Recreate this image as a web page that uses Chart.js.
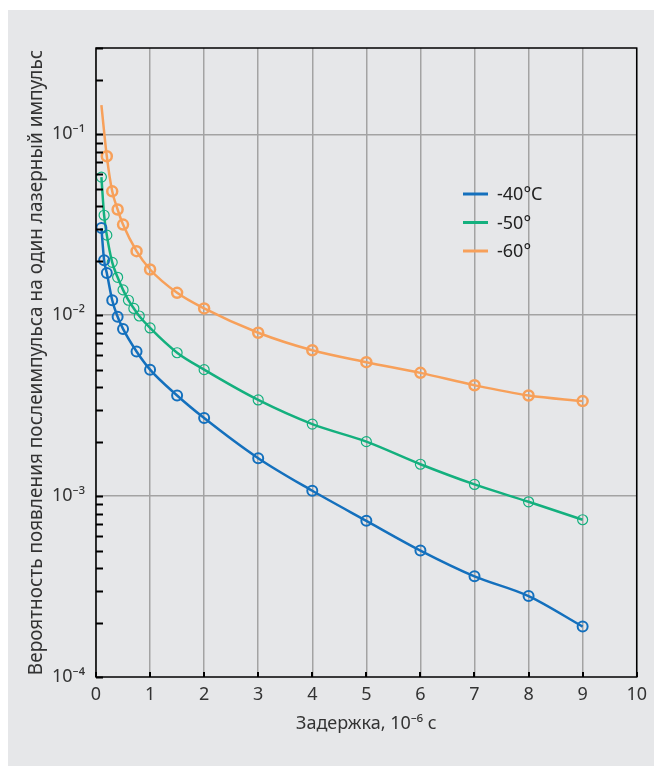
<!DOCTYPE html>
<html>
<head>
<meta charset="utf-8">
<script src="https://cdn.jsdelivr.net/npm/chart.js@4.4.1/dist/chart.umd.min.js"></script>
<style>
    html, body { margin: 0; padding: 0; background: #ffffff; }
    #panel { position: absolute; left: 8px; top: 10px; width: 646px; height: 756px; background: #e6e7e9; }
    #chart { display: block; }
</style>
</head>
<body>
<div id="panel"><canvas id="chart" width="646" height="756"></canvas></div>
<script>
// Data
const seriesNames = ['-40°C', '-50°', '-60°'];

const delay40 = [0.1, 0.15, 0.2, 0.3, 0.4, 0.5, 0.75, 1, 1.5, 2, 3, 4, 5, 6, 7, 8, 9];
const prob40 = [0.0303, 0.0201, 0.0171, 0.0121, 0.0098, 0.0084, 0.0063, 0.0050, 0.0036, 0.0027,
    0.00162, 0.00107, 0.00073, 0.00050, 0.00036, 0.00028, 0.00019];

const delay50 = [0.1, 0.15, 0.2, 0.3, 0.4, 0.5, 0.6, 0.7, 0.8, 1, 1.5, 2, 3, 4, 5, 6, 7, 8, 9];
const prob50 = [0.058, 0.0357, 0.0277, 0.0196, 0.0162, 0.0138, 0.0121, 0.0109, 0.0099, 0.0085,
    0.0062, 0.0050, 0.0034, 0.0025, 0.0020, 0.0015, 0.00116, 0.00093, 0.00074];

const delay60 = [0.1, 0.2, 0.3, 0.4, 0.5, 0.75, 1, 1.5, 2, 3, 4, 5, 6, 7, 8, 9];
const prob60 = [0.145, 0.0756, 0.0484, 0.0384, 0.0317, 0.0226, 0.0179, 0.0133, 0.0109,
    0.0080, 0.0064, 0.0055, 0.0048, 0.0041, 0.0036, 0.00335];

// Axis ticks
const xTicks = [0, 1, 2, 3, 4, 5, 6, 7, 8, 9, 10];
const yDecades = [1e-4, 1e-3, 1e-2, 1e-1];
const yTickLabels = ['10⁻⁴', '10⁻³', '10⁻²', '10⁻¹'];
const yMantissas = [1, 2, 3, 4, 5, 6, 7, 8, 9];

const xTitle = 'Задержка, 10⁻⁶ с';
const yTitle = 'Вероятность появления послеимпульса на один лазерный импульс';

const colors = ['#1470bd', '#14b07e', '#f7a05a'];
const textColor = '#333333';
const gridColor = '#a3a3a3';
const fontFamily = '"Noto Sans", "Open Sans", sans-serif';

function toPoints(xs, ys) {
    return xs.map((x, i) => ({ x: x, y: ys[i] }));
}

function isDecade(v) {
    return yDecades.some(d => Math.abs(v / d - 1) < 1e-6);
}

// Box around the plot, inward ticks and legend
const framePlugin = {
    id: 'frame',
    afterDatasetsDraw(chart) {
        const ctx = chart.ctx;
        const area = chart.chartArea;
        const xs = chart.scales.x;
        const ys = chart.scales.y;
        ctx.save();
        ctx.strokeStyle = '#000000';
        ctx.lineWidth = 2;
        ctx.beginPath();
        xTicks.forEach(v => {
            const px = Math.round(xs.getPixelForValue(v));
            ctx.moveTo(px, area.bottom);
            ctx.lineTo(px, area.bottom - 5);
        });
        ys.ticks.forEach(t => {
            const py = Math.round(ys.getPixelForValue(t.value)) + 0.5;
            ctx.moveTo(area.left, py);
            ctx.lineTo(area.left + 7, py);
        });
        ctx.stroke();
        ctx.lineWidth = 1.5;
        ctx.strokeRect(area.left, area.top, area.right - area.left, area.bottom - area.top);

        // legend
        ctx.font = '18px ' + fontFamily;
        ctx.textBaseline = 'middle';
        ctx.textAlign = 'left';
        chart.data.datasets.forEach((ds, i) => {
            const y = 184 + i * 28.5;
            ctx.strokeStyle = ds.borderColor;
            ctx.lineWidth = 3;
            ctx.beginPath();
            ctx.moveTo(455, y);
            ctx.lineTo(480, y);
            ctx.stroke();
            ctx.fillStyle = '#222222';
            ctx.fillText(ds.label, 489, y + 1);
        });
        ctx.restore();
    }
};

const datasets = [
    { label: seriesNames[0], data: toPoints(delay40, prob40), color: colors[0], pw: 2 },
    { label: seriesNames[1], data: toPoints(delay50, prob50), color: colors[1], pw: 1.2 },
    { label: seriesNames[2], data: toPoints(delay60, prob60), color: colors[2], pw: 2.5 }
].map(s => ({
    label: s.label,
    data: s.data,
    borderColor: s.color,
    backgroundColor: 'transparent',
    borderWidth: 2.5,
    cubicInterpolationMode: 'monotone',
    pointStyle: 'circle',
    pointRadius: ctx => (s.label === seriesNames[2] && ctx.dataIndex === 0) ? 0 : 5,
    pointBorderWidth: s.pw,
    pointBorderColor: s.color,
    pointBackgroundColor: 'transparent',
    fill: false
}));

new Chart(document.getElementById('chart').getContext('2d'), {
    type: 'line',
    data: { datasets: datasets },
    plugins: [framePlugin],
    options: {
        responsive: false,
        devicePixelRatio: 1,
        animation: false,
        layout: { padding: { top: 38, right: 17, left: 0, bottom: 0 } },
        plugins: {
            legend: { display: false },
            tooltip: { enabled: false }
        },
        scales: {
            x: {
                type: 'linear',
                min: 0,
                max: 10,
                afterFit: scale => { scale.height = 89; },
                afterBuildTicks: scale => { scale.ticks = xTicks.map(v => ({ value: v })); },
                border: { display: false },
                grid: { color: gridColor, lineWidth: 1.5, drawTicks: false },
                ticks: {
                    color: textColor,
                    padding: 7,
                    font: { family: fontFamily, size: 18 },
                    autoSkip: false,
                    maxRotation: 0
                },
                title: {
                    display: true,
                    text: xTitle,
                    color: textColor,
                    font: { family: fontFamily, size: 18 },
                    padding: { top: 0, bottom: 31 }
                }
            },
            y: {
                type: 'logarithmic',
                min: 1e-4,
                max: 0.3,
                afterFit: scale => { scale.width = 88; },
                afterBuildTicks: scale => {
                    const list = [];
                    yDecades.forEach(d => yMantissas.forEach(m => {
                        if (m * d <= 0.3 + 1e-9) list.push({ value: m * d });
                    }));
                    scale.ticks = list;
                },
                border: { display: false },
                grid: {
                    color: ctx => (ctx.tick && isDecade(ctx.tick.value) && ctx.tick.value !== 1e-4) ? gridColor : 'rgba(0,0,0,0)',
                    lineWidth: 1.5,
                    drawTicks: false
                },
                ticks: {
                    color: textColor,
                    padding: 11,
                    font: { family: fontFamily, size: 18 },
                    autoSkip: false,
                    callback: value => {
                        const i = yDecades.findIndex(d => Math.abs(value / d - 1) < 1e-6);
                        return i >= 0 ? yTickLabels[i] : '';
                    }
                },
                title: {
                    display: true,
                    text: yTitle,
                    color: textColor,
                    font: { family: fontFamily, size: 19 },
                    padding: { top: 17, bottom: 0 }
                }
            }
        }
    }
});
</script>
</body>
</html>
